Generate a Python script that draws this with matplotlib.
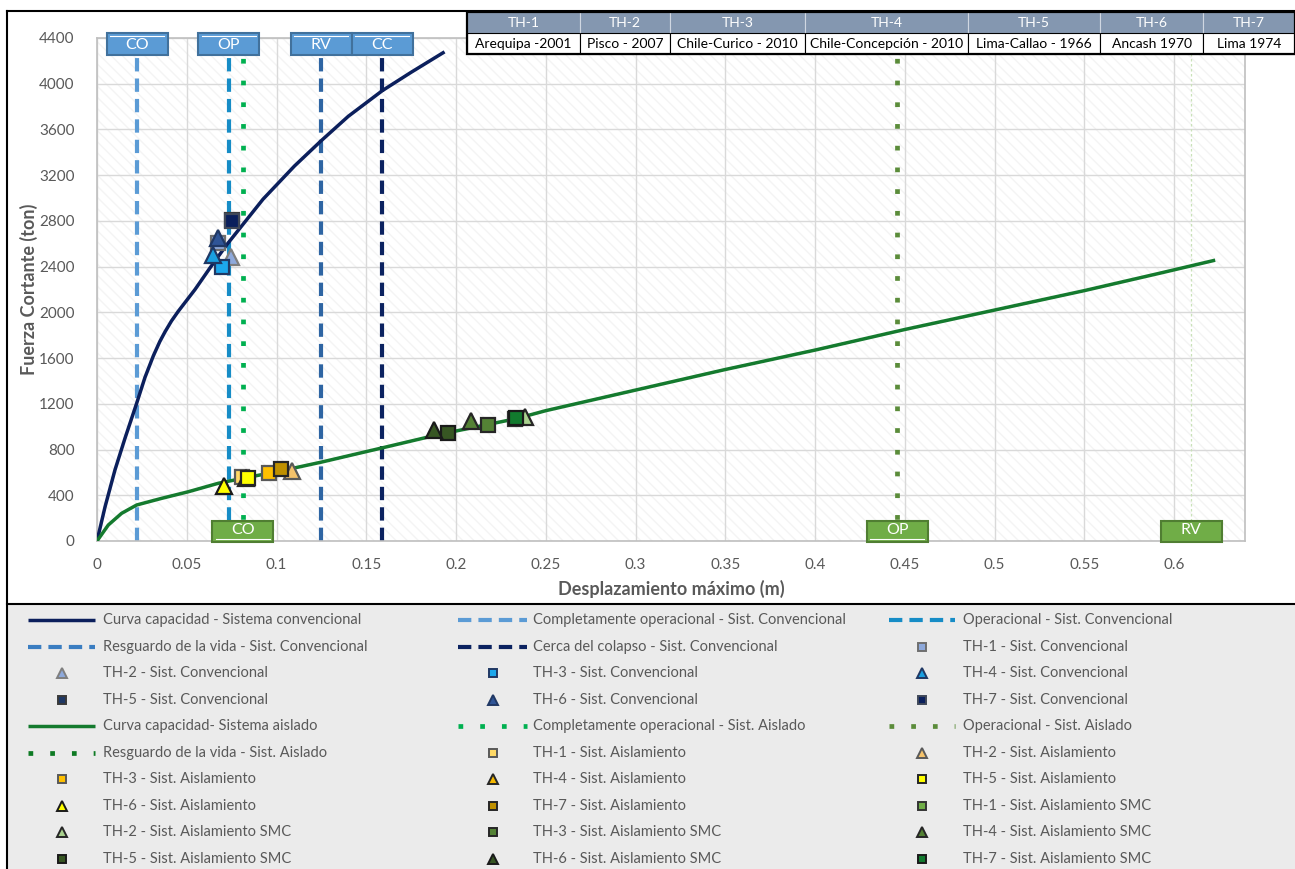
import matplotlib
matplotlib.use('Agg')
import matplotlib.pyplot as plt
from matplotlib.patches import Rectangle
import matplotlib.transforms as mtransforms

plt.rcParams['font.family'] = ['Lato', 'DejaVu Sans']

W, H = 1295, 869

# ---------------- data ----------------
conv_x = [0, 0.0045, 0.010, 0.0156, 0.0221, 0.0267, 0.0314, 0.0350, 0.0379, 0.0415, 0.0453,
          0.0546, 0.063, 0.0722, 0.0925, 0.110, 0.1248, 0.140, 0.159, 0.175, 0.1928]
conv_y = [0, 300, 621, 899, 1205, 1430, 1620, 1745, 1830, 1925, 2010,
          2200, 2390, 2590, 2990, 3280, 3500, 3715, 3940, 4100, 4271]
iso_x = [0, 0.0063, 0.0137, 0.0221, 0.036, 0.0509, 0.0676, 0.085, 0.100, 0.125,
         0.159, 0.190, 0.2335, 0.25, 0.30, 0.35, 0.40, 0.45, 0.50, 0.55, 0.5922, 0.622]
iso_y = [0, 140, 242, 315, 373, 431, 505, 560, 605, 690,
         815, 930, 1070, 1140, 1320, 1500, 1670, 1850, 2020, 2190, 2343, 2453]

conv_level_x = [0.0223, 0.0735, 0.1248, 0.159]
conv_level_names = ['CO', 'OP', 'RV', 'CC']
iso_level_x = [0.0813, 0.4457, 0.6097]
iso_level_names = ['CO', 'OP', 'RV']

th_names = ['TH-1', 'TH-2', 'TH-3', 'TH-4', 'TH-5', 'TH-6', 'TH-7']
th_records = ['Arequipa -2001', 'Pisco - 2007', 'Chile-Curico - 2010',
              'Chile-Concepción - 2010', 'Lima-Callao - 1966', 'Ancash 1970', 'Lima 1974']

conv_th_x = [0.0676, 0.0744, 0.0695, 0.0649, 0.0750, 0.0676, 0.0750]
conv_th_y = [2610, 2487, 2397, 2500, 2808, 2650, 2800]
iso_th_x = [0.0806, 0.1089, 0.0960, 0.0830, 0.0843, 0.0707, 0.1023]
iso_th_y = [560, 615, 598, 550, 548, 481, 627]
smc_th_x = [0.2330, 0.2384, 0.2176, 0.2081, 0.1957, 0.1877, 0.2335]
smc_th_y = [1070, 1088, 1015, 1050, 942, 971, 1073]

x_ticks = [0, 0.05, 0.1, 0.15, 0.2, 0.25, 0.3, 0.35, 0.4, 0.45, 0.5, 0.55, 0.6]
x_tick_labels = ['0', '0.05', '0.1', '0.15', '0.2', '0.25', '0.3', '0.35', '0.4',
                 '0.45', '0.5', '0.55', '0.6']
y_ticks = [0, 400, 800, 1200, 1600, 2000, 2400, 2800, 3200, 3600, 4000, 4400]

# ---------------- styles ----------------
th_markers = ['s', '^', 's', '^', 's', '^', 's']
conv_fc = ['#8EA9DB', '#8EA9DB', '#1CA7EC', '#1A9FE0', '#1F3864', '#2F5597', '#0A1F5C']
conv_ec = ['#6F6F6F', '#7F7F7F', '#203864', '#1F3864', '#3A3A3A', '#203864', '#404858']
iso_fc = ['#FFD966', '#F4C26B', '#FFC000', '#F5B800', '#FFFF00', '#FFFF00', '#BF9000']
iso_ec = ['#595959', '#595959', '#595959', '#262626', '#262626', '#1A1A1A', '#262626']
smc_fc = ['#70AD47', '#A9D18E', '#548235', '#548235', '#375623', '#375623', '#127A2E']
smc_ec = ['#333333', '#262626', '#262626', '#262626', '#1A1A1A', '#1A1A1A', '#1A1A1A']

conv_curve_c = '#0B1F5C'
iso_curve_c = '#147A2E'
conv_level_c = ['#5B9BD5', '#168CC6', '#2E65A3', '#0B2260']
iso_level_c = ['#00B050', '#5B8C3A', '#0E7A24']
dash = (0, (3.2, 1.7))
dot = (0, (1, 3.6))

fig = plt.figure(figsize=(W / 100, H / 100), dpi=100)
fig.patch.set_facecolor('white')

# background frames (figure pixel coords)
bg = fig.add_axes([0, 0, 1, 1], zorder=-10)
bg.set_xlim(0, W)
bg.set_ylim(H, 0)
bg.axis('off')
bg.add_patch(Rectangle((7, 604), W - 7, H - 604, facecolor='#EBEBEB', edgecolor='none'))
bg.plot([7, W], [11, 11], color='black', lw=1.5)
bg.plot([7, 7], [11, H], color='black', lw=1.5)
bg.plot([7, W], [604, 604], color='black', lw=1.5)

# ---------------- main axes ----------------
ax = fig.add_axes([97 / W, 1 - 541 / H, (1245 - 97) / W, (541 - 38) / H])
ax.set_xlim(0, (1245 - 97) / 1795)
ax.set_ylim(0, 4400)
ax.set_facecolor('white')
plt.rcParams['hatch.linewidth'] = 1.0
ax.add_patch(Rectangle((0, 0), 1, 1, transform=ax.transAxes, facecolor='white',
                       edgecolor='#F4F4F4', hatch='\\\\\\', lw=0, zorder=0))
ax.grid(True, color='#D9D9D9', lw=1)
ax.set_axisbelow(True)
for s in ax.spines.values():
    s.set_color('#BFBFBF')
    s.set_linewidth(1.2)
ax.set_xticks(x_ticks)
ax.set_xticklabels(x_tick_labels)
ax.set_yticks(y_ticks)
ax.tick_params(length=0, labelsize=11, labelcolor='#595959', pad=12)
ax.tick_params(axis='y', pad=16)
ax.set_xlabel('Desplazamiento máximo (m)', fontsize=13, fontweight='bold',
              color='#595959', labelpad=6)
ax.set_ylabel('Fuerza Cortante (ton)', fontsize=13, fontweight='bold',
              color='#595959', labelpad=1)

# vertical performance lines
for xv, c in zip(conv_level_x, conv_level_c):
    ax.axvline(xv, color=c, lw=3, ls=dash, zorder=2)
for i, (xv, c) in enumerate(zip(iso_level_x, iso_level_c)):
    if i < 2:
        ax.axvline(xv, color=c, lw=3.4, ls=dot, dash_capstyle='butt', zorder=2)
    else:
        ax.axvline(xv, color='#C9E2B8', lw=0.9, ls=(0, (2, 2)), zorder=2)

# curves
ax.plot(conv_x, conv_y, color=conv_curve_c, lw=2.5, zorder=3, solid_joinstyle='round')
ax.plot(iso_x, iso_y, color=iso_curve_c, lw=2.5, zorder=3, solid_joinstyle='round')

# markers
for fx_, fy_, fc_, ec_ in ((conv_th_x, conv_th_y, conv_fc, conv_ec),
                           (iso_th_x, iso_th_y, iso_fc, iso_ec),
                           (smc_th_x, smc_th_y, smc_fc, smc_ec)):
    for i in range(7):
        ax.plot(fx_[i], fy_[i], marker=th_markers[i], ms=10 if th_markers[i] == 's' else 11,
                mfc=fc_[i], mec=ec_[i], mew=1.6, ls='none', zorder=4)

# label boxes
bw = 61 / 1795
trans = mtransforms.blended_transform_factory(ax.transData, ax.transAxes)
for xv, name in zip(conv_level_x, conv_level_names):
    y0 = (541 - 55) / 503
    hgt = 22 / 503
    ax.add_patch(Rectangle((xv - bw / 2, y0), bw, hgt, transform=trans, facecolor='#5B9BD5',
                           edgecolor='#41719C', lw=1.5, clip_on=False, zorder=6))
    ax.plot([xv - bw / 2 + 0.002, xv + bw / 2 - 0.002], [y0 + hgt - 3 / 503] * 2, transform=trans,
            color='white', lw=0.8, clip_on=False, zorder=7)
    ax.text(xv, y0 + hgt / 2 - 1 / 503, name, transform=trans, ha='center', va='center',
            color='white', fontsize=11.5, zorder=7, clip_on=False)
for xv, name in zip(iso_level_x, iso_level_names):
    y0 = (541 - 542) / 503
    hgt = 21 / 503
    ax.add_patch(Rectangle((xv - bw / 2, y0), bw, hgt, transform=trans, facecolor='#70AD47',
                           edgecolor='#507E32', lw=1.5, clip_on=False, zorder=6))
    if name != 'RV':
        ax.plot([xv - bw / 2 + 0.002, xv + bw / 2 - 0.002], [y0 + 3 / 503] * 2, transform=trans,
                color='white', lw=0.8, clip_on=False, zorder=7)
    ax.text(xv, y0 + hgt / 2 + 1 / 503, name, transform=trans, ha='center', va='center',
            color='white', fontsize=11.5, zorder=7, clip_on=False)

# ---------------- table (top right) ----------------
ov = fig.add_axes([0, 0, 1, 1], zorder=20)
ov.set_xlim(0, W)
ov.set_ylim(H, 0)
ov.axis('off')
cols = [467, 580, 670, 805, 968, 1100, 1203, 1295]
ty = [12, 33, 54]
for j in range(7):
    x0, x1 = cols[j], cols[j + 1]
    ov.add_patch(Rectangle((x0, ty[0]), x1 - x0, ty[1] - ty[0], facecolor='#8497B0',
                           edgecolor='#D0D7E2', lw=0.8))
    ov.add_patch(Rectangle((x0, ty[1]), x1 - x0, ty[2] - ty[1], facecolor='white',
                           edgecolor='black', lw=0.8))
    ov.text((x0 + x1) / 2, (ty[0] + ty[1]) / 2 + 0.5, th_names[j], ha='center', va='center',
            color='white', fontsize=10)
    ov.text((x0 + x1) / 2, (ty[1] + ty[2]) / 2 + 0.5, th_records[j], ha='center', va='center',
            color='black', fontsize=10)
ov.add_patch(Rectangle((cols[0], ty[0]), cols[-1] - cols[0], ty[2] - ty[0], facecolor='none',
                       edgecolor='black', lw=1.6))

# ---------------- legend (manual, figure pixels) ----------------
entries = []
entries.append(('line', 'Curva capacidad - Sistema convencional', conv_curve_c, '-', 2.5))
entries.append(('line', 'Completamente operacional - Sist. Convencional', conv_level_c[0], dash, 3))
entries.append(('line', 'Operacional - Sist. Convencional', conv_level_c[1], dash, 3))
entries.append(('line', 'Resguardo de la vida - Sist. Convencional', '#3A7DC1', dash, 3))
entries.append(('line', 'Cerca del colapso - Sist. Convencional', conv_level_c[3], dash, 3))
for i in range(7):
    entries.append(('mark', th_names[i] + ' - Sist. Convencional', th_markers[i], conv_fc[i], conv_ec[i]))
entries.append(('line', 'Curva capacidad- Sistema aislado', iso_curve_c, '-', 2.5))
entries.append(('line', 'Completamente operacional - Sist. Aislado', iso_level_c[0], dot, 3.4))
entries.append(('line', 'Operacional - Sist. Aislado', iso_level_c[1], dot, 3.4))
entries.append(('line', 'Resguardo de la vida - Sist. Aislado', iso_level_c[2], dot, 3.4))
for i in range(7):
    entries.append(('mark', th_names[i] + ' - Sist. Aislamiento', th_markers[i], iso_fc[i], iso_ec[i]))
for i in range(7):
    entries.append(('mark', th_names[i] + ' - Sist. Aislamiento SMC', th_markers[i], smc_fc[i], smc_ec[i]))

col_h = [(28, 95), (458, 527), (889, 955)]
col_t = [103, 533, 963]
for k, e in enumerate(entries):
    r, c = divmod(k, 3)
    yy = 620 + r * 26.55
    h0, h1 = col_h[c]
    if e[0] == 'line':
        ov.plot([h0, h1], [yy, yy], color=e[2], ls=e[3], lw=e[4], dash_capstyle='butt',
                solid_capstyle='butt')
    else:
        ov.plot([(h0 + h1) / 2], [yy], marker=e[2], ms=6 if e[2] == 's' else 6.5,
                mfc=e[3], mec=e[4], mew=1.4, ls='none')
    ov.text(col_t[c], yy, e[1], ha='left', va='center', color='#595959', fontsize=10.5)

fig.savefig('out.png', dpi=100)
